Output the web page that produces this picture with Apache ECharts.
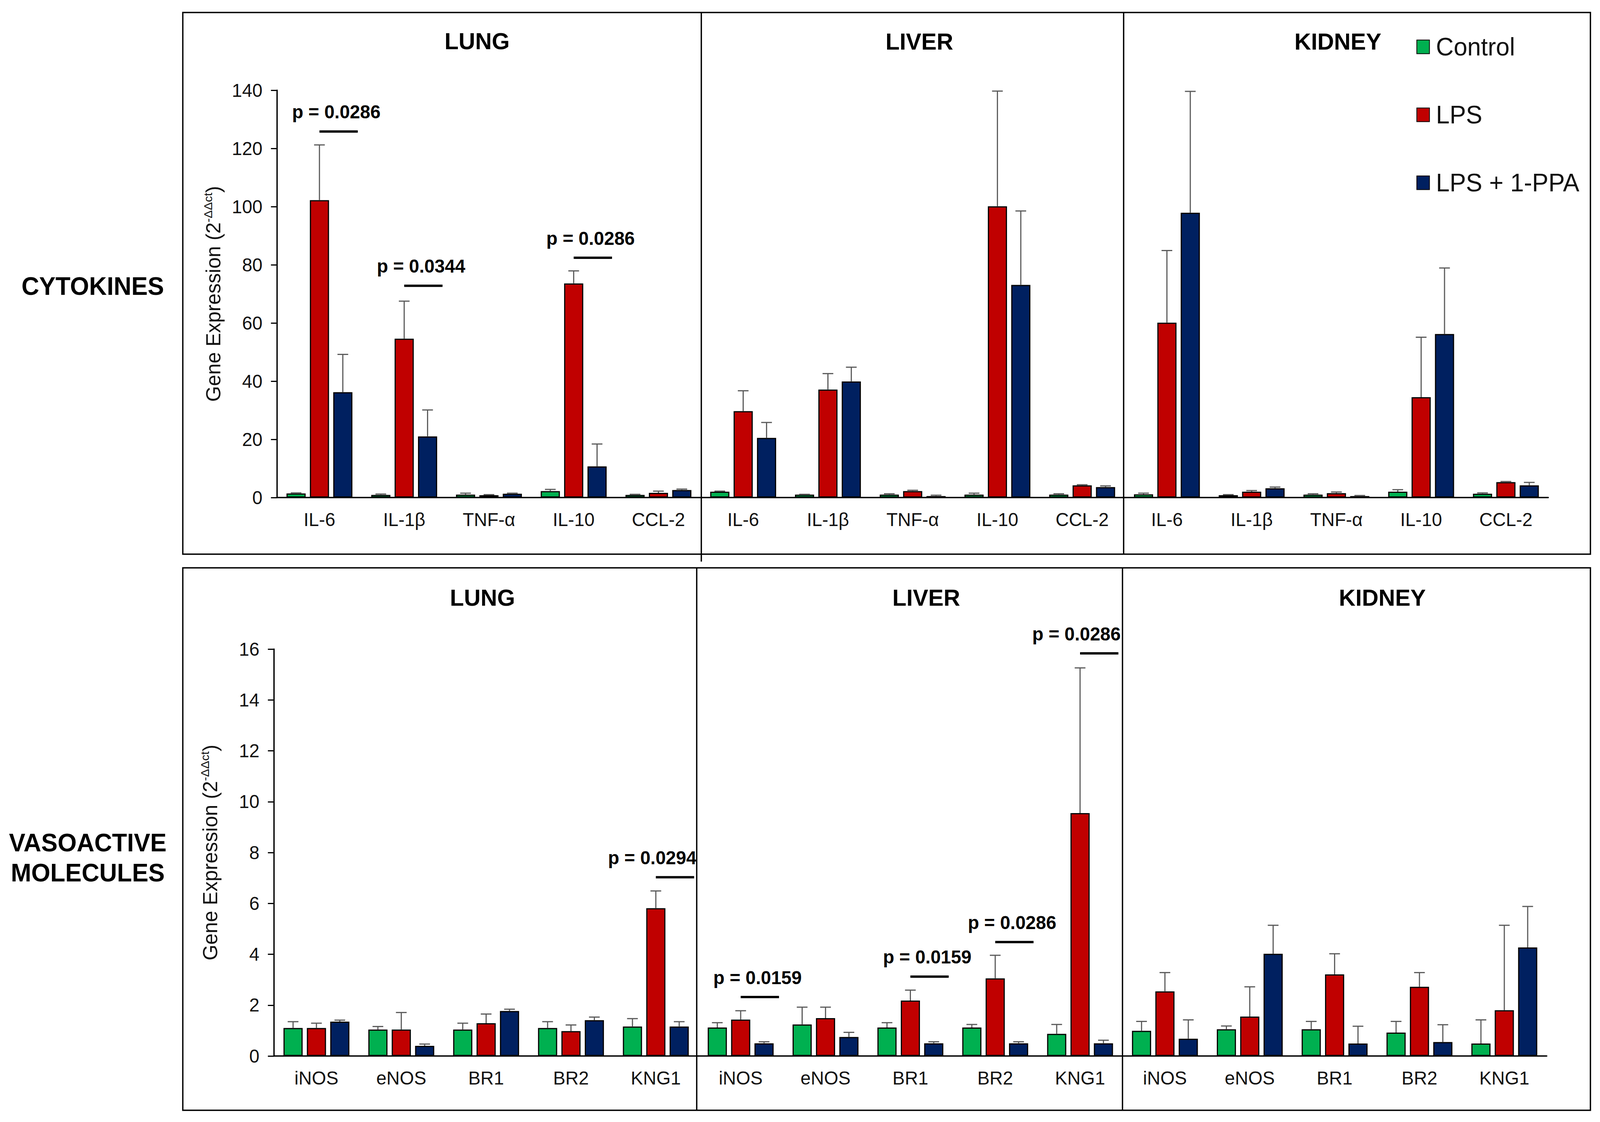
<!DOCTYPE html>
<html>
<head>
<meta charset="utf-8">
<title>Gene expression - cytokines and vasoactive molecules</title>
<script src="https://cdn.jsdelivr.net/npm/echarts@6/dist/echarts.min.js"></script>
<style>
  html, body { margin: 0; padding: 0; background: #fff; overflow: hidden; }
  #chart { width: 4175px; height: 2873px; transform-origin: 0 0; }
</style>
</head>
<body>
<div id="chart"></div>
<script>
// categories
var organs = ['LUNG', 'LIVER', 'KIDNEY'];
var cytoCats = ['IL-6', 'IL-1β', 'TNF-α', 'IL-10', 'CCL-2'];
var vasoCats = ['iNOS', 'eNOS', 'BR1', 'BR2', 'KNG1'];
var groups = ['Control', 'LPS', 'LPS + 1-PPA'];

// tick settings
var cytoMax = 140, cytoStep = 20;
var vasoMax = 16, vasoStep = 2;

// cytokines - mean and error (upper SEM)
var lungCytoControl = [1.4, 0.9, 1.0, 2.2, 0.9];
var lungCytoLPS     = [102.2, 54.6, 0.8, 73.6, 1.6];
var lungCytoPPA     = [36.2, 21.0, 1.3, 10.7, 2.6];
var lungCytoControlErr = [0.2, 0.3, 0.5, 0.6, 0.2];
var lungCytoLPSErr     = [19.0, 12.9, 0.2, 4.3, 0.6];
var lungCytoPPAErr     = [13.0, 9.1, 0.2, 7.7, 0.3];

var liverCytoControl = [2.0, 1.0, 1.0, 1.0, 1.0];
var liverCytoLPS     = [29.7, 37.1, 2.2, 100.1, 4.2];
var liverCytoPPA     = [20.5, 39.9, 0.5, 73.1, 3.6];
var liverCytoControlErr = [0.2, 0.1, 0.3, 0.5, 0.3];
var liverCytoLPSErr     = [7.0, 5.5, 0.3, 39.6, 0.2];
var liverCytoPPAErr     = [5.3, 4.9, 0.3, 25.4, 0.4];

var kidneyCytoControl = [1.1, 0.8, 1.0, 2.0, 1.3];
var kidneyCytoLPS     = [60.1, 2.0, 1.5, 34.5, 5.3];
var kidneyCytoPPA     = [97.9, 3.2, 0.5, 56.2, 4.2];
var kidneyCytoControlErr = [0.4, 0.2, 0.3, 0.7, 0.3];
var kidneyCytoLPSErr     = [24.8, 0.4, 0.4, 20.6, 0.2];
var kidneyCytoPPAErr     = [41.7, 0.4, 0.2, 22.7, 1.0];

// vasoactive molecules - mean and error
var lungVasoControl = [1.10, 1.04, 1.04, 1.10, 1.16];
var lungVasoLPS     = [1.10, 1.04, 1.29, 0.98, 5.81];
var lungVasoPPA     = [1.35, 0.40, 1.77, 1.41, 1.16];
var lungVasoControlErr = [0.25, 0.12, 0.25, 0.25, 0.31];
var lungVasoLPSErr     = [0.19, 0.67, 0.36, 0.24, 0.68];
var lungVasoPPAErr     = [0.06, 0.07, 0.07, 0.12, 0.19];

var liverVasoControl = [1.12, 1.24, 1.12, 1.12, 0.87];
var liverVasoLPS     = [1.43, 1.49, 2.18, 3.05, 9.55];
var liverVasoPPA     = [0.50, 0.75, 0.50, 0.50, 0.50];
var liverVasoControlErr = [0.19, 0.68, 0.19, 0.12, 0.37];
var liverVasoLPSErr     = [0.35, 0.43, 0.41, 0.91, 5.71];
var liverVasoPPAErr     = [0.06, 0.18, 0.06, 0.06, 0.12];

var kidneyVasoControl = [0.99, 1.05, 1.05, 0.92, 0.49];
var kidneyVasoLPS     = [2.54, 1.55, 3.21, 2.72, 1.80];
var kidneyVasoPPA     = [0.68, 4.02, 0.49, 0.55, 4.27];
var kidneyVasoControlErr = [0.37, 0.13, 0.31, 0.44, 0.93];
var kidneyVasoLPSErr     = [0.74, 1.17, 0.81, 0.56, 3.34];
var kidneyVasoPPAErr     = [0.74, 1.12, 0.68, 0.68, 1.61];

// significance marks: panel, category index, bar level, p value
var cytoSig = [
  [0, 0, 125.8, 'p = 0.0286'],
  [0, 1, 72.8, 'p = 0.0344'],
  [0, 3, 82.4, 'p = 0.0286']
];
var vasoSig = [
  [0, 4, 7.03, 'p = 0.0294'],
  [1, 0, 2.32, 'p = 0.0159'],
  [1, 2, 3.12, 'p = 0.0159'],
  [1, 3, 4.48, 'p = 0.0286'],
  [1, 4, 15.83, 'p = 0.0286']
];

var cytoMeans = [
  [lungCytoControl, lungCytoLPS, lungCytoPPA],
  [liverCytoControl, liverCytoLPS, liverCytoPPA],
  [kidneyCytoControl, kidneyCytoLPS, kidneyCytoPPA]
];
var cytoErrs = [
  [lungCytoControlErr, lungCytoLPSErr, lungCytoPPAErr],
  [liverCytoControlErr, liverCytoLPSErr, liverCytoPPAErr],
  [kidneyCytoControlErr, kidneyCytoLPSErr, kidneyCytoPPAErr]
];
var vasoMeans = [
  [lungVasoControl, lungVasoLPS, lungVasoPPA],
  [liverVasoControl, liverVasoLPS, liverVasoPPA],
  [kidneyVasoControl, kidneyVasoLPS, kidneyVasoPPA]
];
var vasoErrs = [
  [lungVasoControlErr, lungVasoLPSErr, lungVasoPPAErr],
  [liverVasoControlErr, liverVasoLPSErr, liverVasoPPAErr],
  [kidneyVasoControlErr, kidneyVasoLPSErr, kidneyVasoPPAErr]
];

// ------------------------------------------------------------------
var FONT = '"Liberation Sans", Arial, Helvetica, sans-serif';
var colors = ['#00B050', '#C00000', '#002060'];
var errColor = '#5a5a5a';
var barW = 50, gapPx = 11;

var rows = [
  { cats: cytoCats, means: cytoMeans, errs: cytoErrs, sig: cytoSig, max: cytoMax, step: cytoStep,
    left: 723, right: 4040, top: 231, bottom: 1274 },
  { cats: vasoCats, means: vasoMeans, errs: vasoErrs, sig: vasoSig, max: vasoMax, step: vasoStep,
    left: 715, right: 4036, top: 1662, bottom: 2704 }
];

var grid = [], xAxis = [], yAxis = [], series = [];

function renderErr(params, api) {
  var cat = api.value(0), g = api.value(3);
  var p0 = api.coord([cat, api.value(1)]);
  var p1 = api.coord([cat, api.value(2)]);
  var x = p0[0] + (g - 1) * (barW + gapPx);
  return {
    type: 'group',
    children: [
      { type: 'line', shape: { x1: x, y1: p0[1], x2: x, y2: p1[1] },
        style: { stroke: errColor, lineWidth: 3 } },
      { type: 'line', shape: { x1: x - 14, y1: p1[1], x2: x + 14, y2: p1[1] },
        style: { stroke: errColor, lineWidth: 3 } }
    ]
  };
}

function makeSigRender(list) {
  return function (params, api) {
    var cat = api.value(0);
    var p = api.coord([cat, api.value(1)]);
    var last = cat === 4;
    var x1 = p[0], x2 = p[0] + 100;
    return {
      type: 'group',
      children: [
        { type: 'line', shape: { x1: x1, y1: p[1], x2: x2, y2: p[1] },
          style: { stroke: '#000', lineWidth: 6 } },
        { type: 'text', x: last ? x2 + 6 : p[0] + 44, y: p[1] - 50,
          style: { text: list[params.dataIndex], fill: '#000',
            font: 'bold 48px ' + FONT,
            align: last ? 'right' : 'center', verticalAlign: 'middle',
            textAlign: last ? 'right' : 'center', textVerticalAlign: 'middle' } }
      ]
    };
  };
}

rows.forEach(function (row, r) {
  var panelW = (row.right - row.left) / 3;
  for (var p = 0; p < 3; p++) {
    var idx = r * 3 + p;
    grid.push({ left: row.left + p * panelW, top: row.top, width: panelW,
      height: row.bottom - row.top, containLabel: false });
    xAxis.push({
      type: 'category', gridIndex: idx, data: row.cats,
      axisLine: { lineStyle: { color: '#000', width: 3.5 } },
      axisTick: { show: false },
      axisLabel: { interval: 0, margin: 32, color: '#111', fontSize: 48, fontFamily: FONT }
    });
    yAxis.push({
      type: 'value', gridIndex: idx, min: 0, max: row.max, interval: row.step,
      show: p === 0,
      name: p === 0 ? 'Gene Expression (2{sup|-ΔΔct})' : '',
      nameLocation: 'middle', nameGap: 136,
      nameTextStyle: { color: '#111', fontSize: 52, fontFamily: FONT, lineHeight: 60,
        rich: { sup: { fontSize: 31, fontFamily: FONT, color: '#111', lineHeight: 60, verticalAlign: 'top', padding: [0, 0, 24, 0] } } },
      splitLine: { show: false },
      axisLine: { show: true, lineStyle: { color: '#000', width: 3.5 } },
      axisTick: { show: true, length: 16, lineStyle: { color: '#000', width: 3 } },
      axisLabel: { margin: 38, color: '#111', fontSize: 48, fontFamily: FONT }
    });
    for (var g = 0; g < 3; g++) {
      series.push({
        name: groups[g], type: 'bar', xAxisIndex: idx, yAxisIndex: idx,
        data: row.means[p][g], barWidth: barW, barGap: (gapPx / barW * 100) + '%',
        itemStyle: { color: colors[g], borderColor: '#000', borderWidth: 3 },
        z: 2
      });
    }
    var errData = [];
    for (var g2 = 0; g2 < 3; g2++) {
      row.means[p][g2].forEach(function (v, c) {
        errData.push([c, v, v + row.errs[p][g2][c], g2]);
      });
    }
    series.push({
      name: 'err', type: 'custom', xAxisIndex: idx, yAxisIndex: idx,
      renderItem: renderErr, data: errData, encode: { x: 0, y: [1, 2] }, z: 3, clip: false
    });
    var sigData = [], sigText = [];
    row.sig.forEach(function (s) {
      if (s[0] === p) { sigData.push([s[1], s[2]]); sigText.push(s[3]); }
    });
    if (sigData.length) {
      series.push({
        name: 'sig', type: 'custom', xAxisIndex: idx, yAxisIndex: idx,
        renderItem: makeSigRender(sigText), data: sigData, encode: { x: 0, y: 1 }, z: 4, clip: false
      });
    }
  }
});

function txt(x, y, s, size) {
  return { type: 'text', x: x, y: y, z: 10,
    style: { text: s, fill: '#000', font: 'bold ' + size + 'px ' + FONT,
      align: 'center', verticalAlign: 'middle', textAlign: 'center', textVerticalAlign: 'middle',
      lineHeight: 77 } };
}
function vline(x, y1, y2) {
  return { type: 'line', z: 10, shape: { x1: x, y1: y1, x2: x, y2: y2 },
    style: { stroke: '#000', lineWidth: 3.5 } };
}

var graphics = [
  { type: 'rect', z: 10, shape: { x: 477, y: 32, width: 3673, height: 1387 },
    style: { fill: 'none', stroke: '#000', lineWidth: 3.5 } },
  { type: 'rect', z: 10, shape: { x: 477, y: 1454, width: 3673, height: 1389 },
    style: { fill: 'none', stroke: '#000', lineWidth: 3.5 } },
  vline(1830, 32, 1438), vline(2932, 32, 1419),
  vline(1818, 1454, 2843), vline(2929, 1454, 2843),
  txt(1245, 105, organs[0], 60), txt(2399, 106, organs[1], 60), txt(3491, 106, organs[2], 60),
  txt(1259, 1530, organs[0], 60), txt(2417, 1530, organs[1], 60), txt(3607, 1530, organs[2], 60),
  txt(242, 733, 'CYTOKINES', 64),
  txt(229, 2196, 'VASOACTIVE\nMOLECULES', 64)
];

// the layout is drawn at 4175 x 2873; stretch it onto the actual window
var chartDom = document.getElementById('chart');
var sx = window.innerWidth / 4175, sy = window.innerHeight / 2873;
if (Math.abs(sx - 1) > 0.001 || Math.abs(sy - 1) > 0.001) {
  chartDom.style.transform = 'scale(' + sx + ',' + sy + ')';
}

var myChart = echarts.init(chartDom, null, { renderer: 'svg' });
var option = {
  animation: false,
  backgroundColor: '#fff',
  legend: {
    data: groups, orient: 'vertical', left: 3691, top: 80, icon: 'rect',
    itemWidth: 33, itemHeight: 35, itemGap: 104, selectedMode: false,
    textStyle: { fontSize: 64, lineHeight: 70, fontFamily: FONT, color: '#111', padding: [0, 0, 0, 12] }
  },
  grid: grid,
  xAxis: xAxis,
  yAxis: yAxis,
  series: series,
  graphic: graphics
};
myChart.setOption(option);
</script>
</body>
</html>
